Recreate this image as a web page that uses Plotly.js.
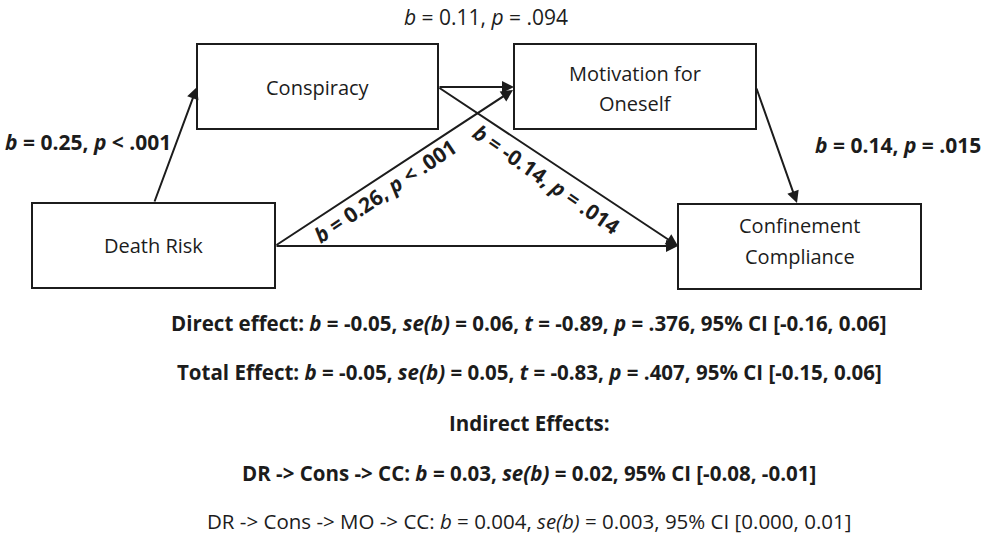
<!DOCTYPE html>
<html><head><meta charset="utf-8">
<script src="https://cdn.plot.ly/plotly-3.0.1.min.js"></script>
<style>html,body{margin:0;padding:0;background:#fff;}#chart{width:991px;height:537px;}</style>
</head><body><div id="chart"></div>
<script>
// ---- data ----
const nodeNames = ['Death Risk', 'Conspiracy', 'Motivation for|Oneself', 'Confinement|Compliance'];
const pathFrom = ['Death Risk', 'Conspiracy', 'Death Risk', 'Conspiracy', 'Motivation for|Oneself', 'Death Risk'];
const pathTo   = ['Conspiracy', 'Motivation for|Oneself', 'Motivation for|Oneself', 'Confinement|Compliance', 'Confinement|Compliance', 'Confinement|Compliance'];
const pathB    = ['0.25', '0.11', '0.26', '-0.14', '0.14', null];
const pathP    = ['< .001', '= .094', '< .001', '= .014', '= .015', null];
const pathSig  = [true, false, true, true, true, false];
const effectLines = [
  ['Direct effect: ', '<i>b</i> = -0.05, <i>se(b)</i> = 0.06, <i>t</i> = -0.89, <i>p</i> = .376, 95% CI [-0.16, 0.06]', true],
  ['Total Effect: ', '<i>b</i> = -0.05, <i>se(b)</i> = 0.05, <i>t</i> = -0.83, <i>p</i> = .407, 95% CI [-0.15, 0.06]', true],
  ['Indirect Effects:', '', true],
  ['DR -> Cons -> CC: ', '<i>b</i> = 0.03, <i>se(b)</i> = 0.02, 95% CI [-0.08, -0.01]', true],
  ['DR -> Cons -> MO -> CC: ', '<i>b</i> = 0.004, <i>se(b)</i> = 0.003, 95% CI [0.000, 0.01]', false]
];

// ---- geometry & style (layout only) ----
const FONT = '"Open Sans", Lato, sans-serif';
const INK = '#1c1c1c';
const boxGeom = {
  'Death Risk': [32, 203, 275, 288],
  'Conspiracy': [197, 44, 438, 129],
  'Motivation for|Oneself': [514, 44, 756, 129],
  'Confinement|Compliance': [678, 204, 921, 289]
};
const boxTextY = {
  'Death Risk': [245],
  'Conspiracy': [87],
  'Motivation for|Oneself': [73, 103],
  'Confinement|Compliance': [225, 256]
};
const pathGeom = [ // tail x,y -> tip x,y
  [154, 203, 197, 87],
  [438, 87, 514, 87],
  [275, 246, 513, 90],
  [438, 87, 678, 246],
  [756, 87, 797, 203],
  [275, 246, 678, 246]
];
const labelGeom = [ // x, y, angle
  [88, 142, 0],
  [486, 17, 0],
  [385, 191, -34],
  [546, 179, 35],
  [898, 145, 0],
  null
];
const effectY = [323, 372, 423, 473, 521];
const effectX = 529;

const shapes = [];
const annotations = [];

nodeNames.forEach(n => {
  const g = boxGeom[n];
  shapes.push({type: 'rect', xref: 'x', yref: 'y', x0: g[0], y0: g[1], x1: g[2], y1: g[3],
    line: {color: INK, width: 2}, fillcolor: 'rgba(0,0,0,0)', layer: 'above'});
  const parts = n.split('|');
  const cx = (g[0] + g[2]) / 2;
  parts.forEach((t, i) => {
    annotations.push({xref: 'x', yref: 'y', x: cx, y: boxTextY[n][i], text: t, showarrow: false,
      xanchor: 'center', yanchor: 'middle', font: {family: FONT, size: 20, color: INK}});
  });
});

pathFrom.forEach((f, i) => {
  const g = pathGeom[i];
  annotations.push({xref: 'x', yref: 'y', axref: 'x', ayref: 'y', x: g[2], y: g[3], ax: g[0], ay: g[1],
    text: '', showarrow: true, arrowhead: 2, arrowsize: 1.2, arrowwidth: 2, arrowcolor: INK, standoff: 0, startstandoff: 0});
  if (pathB[i] !== null) {
    const L = labelGeom[i];
    let txt = '<i>b</i> = ' + pathB[i] + ', <i>p</i> ' + pathP[i];
    if (pathSig[i]) txt = '<b>' + txt + '</b>';
    annotations.push({xref: 'x', yref: 'y', x: L[0], y: L[1], text: txt, showarrow: false, textangle: L[2],
      xanchor: 'center', yanchor: 'middle', font: {family: FONT, size: 21, color: INK}});
  }
});

effectLines.forEach((e, i) => {
  let txt = e[0] + e[1];
  if (e[2]) txt = '<b>' + txt + '</b>';
  annotations.push({xref: 'x', yref: 'y', x: effectX, y: effectY[i], text: txt, showarrow: false,
    xanchor: 'center', yanchor: 'middle', font: {family: FONT, size: 20.5, color: INK}});
});

const layout = {
  width: 991, height: 537,
  margin: {l: 0, r: 0, t: 0, b: 0},
  paper_bgcolor: '#fff', plot_bgcolor: '#fff',
  xaxis: {range: [0, 991], visible: false, fixedrange: true},
  yaxis: {range: [537, 0], visible: false, fixedrange: true},
  showlegend: false,
  shapes: shapes,
  annotations: annotations
};
Plotly.newPlot('chart', [{x: [], y: [], type: 'scatter', mode: 'markers', hoverinfo: 'skip'}], layout, {staticPlot: true});
</script>
</body></html>
